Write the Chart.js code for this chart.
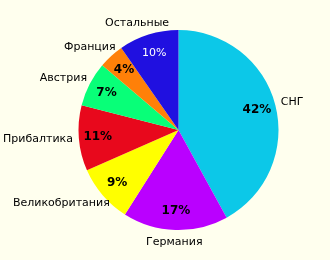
<!DOCTYPE html>
<html>
<head>
<meta charset="utf-8">
<script src="https://cdn.jsdelivr.net/npm/chart.js@4"></script>
<style>
  html, body { margin: 0; padding: 0; background: #FFFFEE; }
  #wrap { width: 330px; height: 260px; position: relative; }
</style>
</head>
<body>
<div id="wrap"><canvas id="chartdiv"></canvas></div>
<script>
// regions and their shares (%)
var regions = ['СНГ', 'Германия', 'Великобритания', 'Прибалтика', 'Австрия', 'Франция', 'Остальные'];
var shares = [42, 17, 9.4, 10.6, 7.2, 4.1, 9.7];
var sliceColors = ['#0CC8E8', '#BA00FF', '#FFFF00', '#E8081C', '#08FF78', '#FF8008', '#2010E0'];

// draws the percent inside each slice and the region name outside
var sliceLabels = {
    id: 'sliceLabels',
    afterDatasetsDraw: function(chart) {
        var ctx = chart.ctx;
        var arcs = chart.getDatasetMeta(0).data;
        var total = shares.reduce(function(a, b) { return a + b; }, 0);
        ctx.save();
        ctx.textAlign = 'center';
        ctx.textBaseline = 'middle';
        arcs.forEach(function(arc, i) {
            var p = arc.getProps(['x', 'y', 'startAngle', 'endAngle', 'outerRadius'], true);
            var mid = (p.startAngle + p.endAngle) / 2;
            var c = Math.cos(mid), s = Math.sin(mid);
            // percent inside
            var pct = Math.round(shares[i] / total * 100) + '%';
            var dark = i === 6;
            ctx.font = dark ? '11px "DejaVu Sans"' : 'bold 12px "DejaVu Sans"';
            ctx.fillStyle = dark ? '#FFFFFF' : '#000000';
            var ri = p.outerRadius * 0.81;
            ctx.fillText(pct, p.x + c * ri, p.y + s * ri);
            // name outside, text box pushed off the rim
            ctx.font = '11px "DejaVu Sans"';
            ctx.fillStyle = '#000000';
            var w = ctx.measureText(regions[i]).width;
            var gap = 6;
            ctx.fillText(regions[i],
                p.x + c * (p.outerRadius + gap + w / 2),
                p.y + s * (p.outerRadius + gap + 6));
        });
        ctx.restore();
    }
};

var ctx1 = document.getElementById('chartdiv');
var pieChart = new Chart(ctx1, {
    type: 'pie',
    data: {
        labels: regions,
        datasets: [{
            data: shares,
            backgroundColor: sliceColors,
            borderWidth: 0
        }]
    },
    options: {
        responsive: true,
        maintainAspectRatio: false,
        animation: false,
        layout: { padding: { left: 78.5, right: 51.5, top: 30, bottom: 30 } },
        plugins: {
            legend: { display: false },
            tooltip: { enabled: false }
        }
    },
    plugins: [sliceLabels]
});
</script>
</body>
</html>
